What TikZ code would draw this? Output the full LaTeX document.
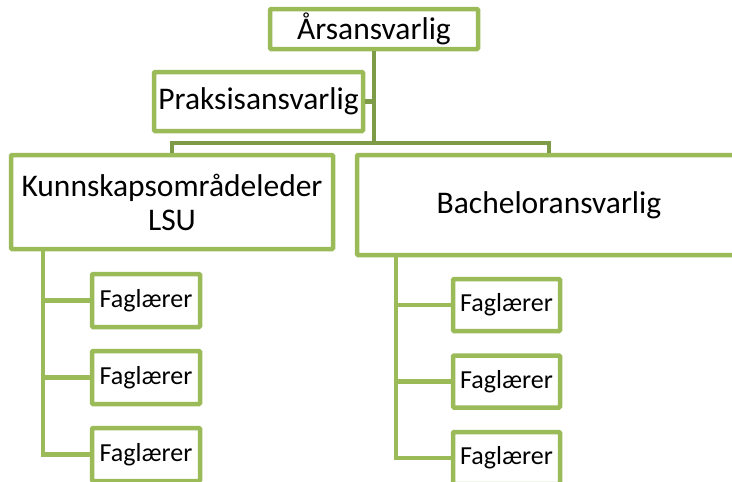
\documentclass[tikz,border=0pt]{standalone}
\usepackage{fontspec}
\setmainfont{Carlito}
\definecolor{boxgreen}{HTML}{9BBB59}
\definecolor{topgreen}{HTML}{7E9B48}
\begin{document}
\begin{tikzpicture}[x=1pt,y=-1pt,
  box/.style={draw=boxgreen,fill=white,line width=4.5pt,rectangle,rounded corners=1pt,inner sep=0pt,align=center,font=\fontsize{31.5}{34}\selectfont},
  small/.style={box,font=\fontsize{26}{28}\selectfont},
  topline/.style={draw=topgreen,line width=4.5pt},
  lowline/.style={draw=boxgreen,line width=4.5pt}]
\useasboundingbox (0,0) rectangle (732,482);
\clip (0,0) rectangle (732,482);
\coordinate (bar) at (374,143);
\coordinate (kl) at (43,249);
\coordinate (bl) at (396,255);
% boxes
\node[box,minimum width=208pt,minimum height=40pt] (aar) at (374,29) {Årsansvarlig};
\node[box,minimum width=209pt,minimum height=59pt] (prak) at (258.5,101.5) {Praksisansvarlig};
\node[box,minimum width=322pt,minimum height=94pt] (kunn) at (172,202) {Kunnskapsområdeleder\\LSU};
\node[box,minimum width=384pt,minimum height=100pt] (bach) at (549,205) {Bacheloransvarlig};
\node[small,minimum width=108pt,minimum height=53pt] (f1) at (146,300.5) {Faglærer};
\node[small,minimum width=108pt,minimum height=53pt] (f2) at (146,377.5) {Faglærer};
\node[small,minimum width=108pt,minimum height=53pt] (f3) at (146,454.5) {Faglærer};
\node[small,minimum width=107pt,minimum height=52pt] (g1) at (506.5,305) {Faglærer};
\node[small,minimum width=107pt,minimum height=52pt] (g2) at (506.5,381.5) {Faglærer};
\node[small,minimum width=107pt,minimum height=52pt] (g3) at (506.5,458) {Faglærer};
% connectors
\draw[topline] (aar.south) -- (bar);
\draw[topline] (prak.east) -- (prak.east -| bar);
\draw[topline] (kunn.north) |- (bar) -| (bach.north);
\draw[lowline] (kl) |- (f1.west);
\draw[lowline] (kl) |- (f2.west);
\draw[lowline] (kl) |- (f3.west);
\draw[lowline] (bl) |- (g1.west);
\draw[lowline] (bl) |- (g2.west);
\draw[lowline] (bl) |- (g3.west);
\end{tikzpicture}
\end{document}
